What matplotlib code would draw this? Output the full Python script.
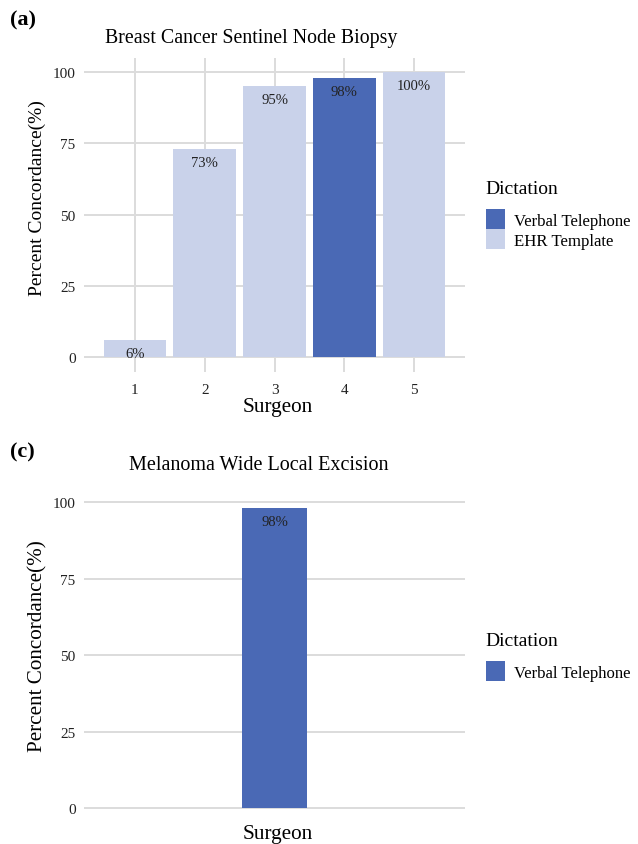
import matplotlib
matplotlib.use("Agg")
import matplotlib.pyplot as plt
from matplotlib.patches import Patch

plt.rcParams["font.family"] = ["Liberation Serif", "DejaVu Serif"]

W, H = 638, 845

# panel (a)
surgeons_a = ["1", "2", "3", "4", "5"]
values_a = [6, 73, 95, 98, 100]
dictation_a = ["EHR Template", "EHR Template", "EHR Template", "Verbal Telephone", "EHR Template"]

# panel (c)
values_c = [98]
dictation_c = ["Verbal Telephone"]

COLORS = {"Verbal Telephone": "#4A69B5", "EHR Template": "#C9D2EA"}
GRID = "#DCDCDC"


def px(x0, y0, x1, y1):
    # pixel box (top-left origin) -> figure rect
    return [x0 / W, 1 - y1 / H, (x1 - x0) / W, (y1 - y0) / H]


def ftext(x, y, s, **kw):
    fig.text(x / W, 1 - y / H, s, **kw)


def style_axes(ax):
    for s in ax.spines.values():
        s.set_visible(False)
    ax.tick_params(length=0, labelsize=11, colors="#222222")
    ax.set_yticks([0, 25, 50, 75, 100])
    ax.set_ylim(-5.2, 105)
    ax.yaxis.grid(True, color=GRID, lw=1.4)
    ax.set_axisbelow(True)
    ax.tick_params(axis="y", pad=6)


def bar_labels(ax, xs, vals):
    for x, v in zip(xs, vals):
        ax.annotate(f"{v}%", (x, v), xytext=(0, -5), textcoords="offset points",
                    ha="center", va="top", fontsize=10.5, color="#222222")


def legend(keys, y_title):
    ftext(485, y_title, "Dictation", fontsize=14, va="center")
    handles = [Patch(facecolor=COLORS[k], edgecolor="none", label=k) for k in keys]
    fig.legend(handles=handles, loc="upper left",
               bbox_to_anchor=(471 / W, 1 - (y_title + 5) / H), frameon=False,
               fontsize=12.1, handlelength=1.13, handleheight=1.45,
               handletextpad=0.55, labelspacing=0.0)


fig = plt.figure(figsize=(W / 100, H / 100), dpi=100)

# ---- (a)
ax1 = fig.add_axes(px(84, 59, 465, 373))
xs_a = list(range(1, len(values_a) + 1))
ax1.bar(xs_a, values_a, width=0.9, color=[COLORS[d] for d in dictation_a])
style_axes(ax1)
ax1.xaxis.grid(True, color=GRID, lw=1.4)
ax1.set_xticks(xs_a)
ax1.set_xticklabels(surgeons_a)
ax1.set_xlim(0.27, 5.73)
ax1.tick_params(axis="x", pad=8)
bar_labels(ax1, xs_a, values_a)
legend(["Verbal Telephone", "EHR Template"], 190)

ftext(10, 20, "(a)", fontsize=16, fontweight="bold", va="center")
ftext(105, 38, "Breast Cancer Sentinel Node Biopsy", fontsize=14.3, va="center")
ftext(37, 198, "Percent Concordance(%)", fontsize=14, rotation=90, ha="center", va="center")
ftext(278, 408, "Surgeon", fontsize=15.3, ha="center", va="center")

# ---- (c)
ax2 = fig.add_axes(px(84, 488, 465, 825))
xs_c = [1]
ax2.bar(xs_c, values_c, width=0.9, color=[COLORS[d] for d in dictation_c])
style_axes(ax2)
ax2.set_xticks([])
ax2.set_xlim(1 - 2.64, 1 + 2.64)
bar_labels(ax2, xs_c, values_c)
legend(["Verbal Telephone"], 642)

ftext(10, 452, "(c)", fontsize=16, fontweight="bold", va="center")
ftext(129, 466, "Melanoma Wide Local Excision", fontsize=14.5, va="center")
ftext(38, 646, "Percent Concordance(%)", fontsize=15.2, rotation=90, ha="center", va="center")
ftext(278, 835, "Surgeon", fontsize=15.3, ha="center", va="center")

fig.savefig("out.png", dpi=100)
